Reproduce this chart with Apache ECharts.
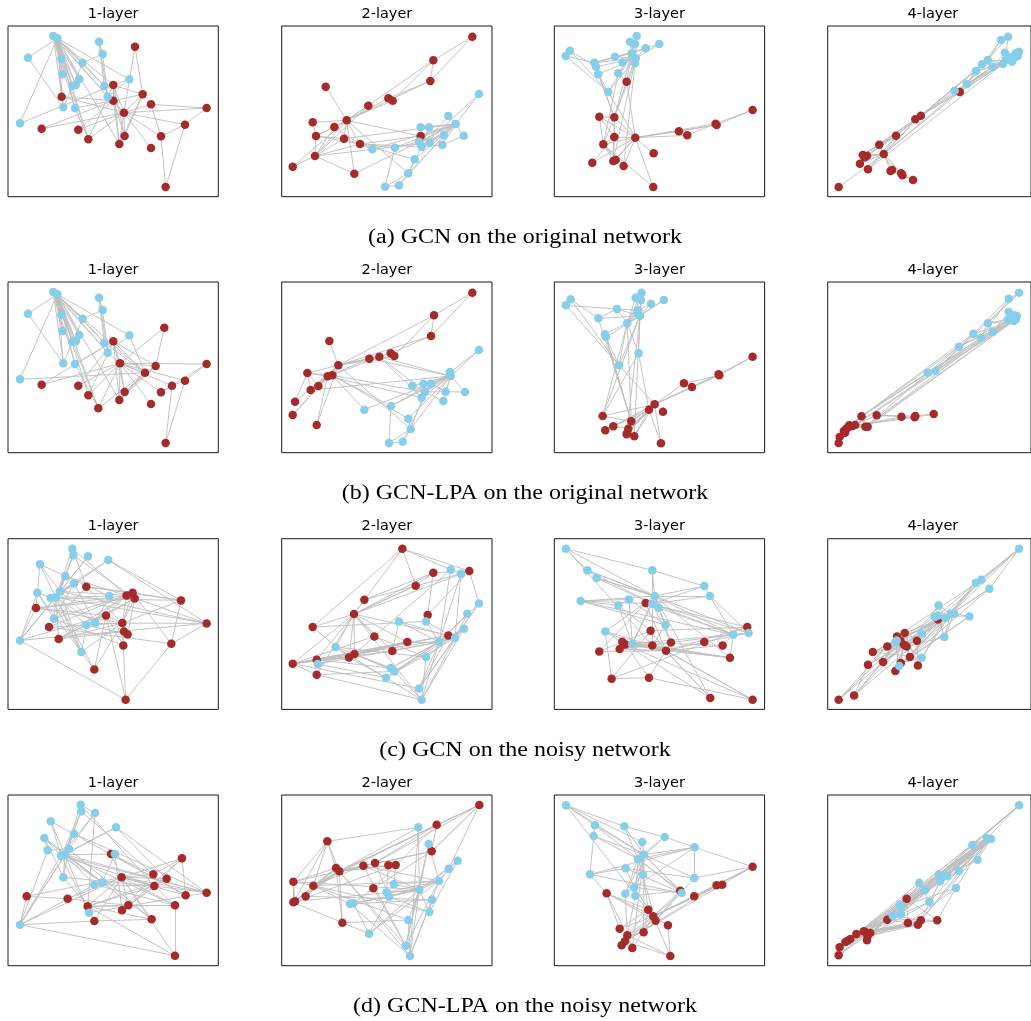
<!DOCTYPE html>
<html>
<head>
<meta charset="utf-8">
<script src="https://cdn.jsdelivr.net/npm/echarts@6/dist/echarts.min.js"></script>
<style>html,body{margin:0;padding:0;background:#fff;}#c{width:1031px;height:1021px;}</style>
</head>
<body>
<div id="c"></div>
<script>
// Zachary karate club: class of each node (0 = brown group, 1 = blue group)
const nodeClass = [0,0,0,0,0,0,0,0,0,1,0,0,0,0,1,1,0,0,1,0,1,0,1,1,1,1,1,1,1,1,1,1,1,1];
// original network edges
const karateEdges = [[0,1],[0,2],[0,3],[0,4],[0,5],[0,6],[0,7],[0,8],[0,10],[0,11],[0,12],[0,13],[0,17],[0,19],[0,21],[0,31],
[1,2],[1,3],[1,7],[1,13],[1,17],[1,19],[1,21],[1,30],[2,3],[2,7],[2,8],[2,9],[2,13],[2,27],[2,28],[2,32],[3,7],[3,12],[3,13],
[4,6],[4,10],[5,6],[5,10],[5,16],[6,16],[8,30],[8,32],[8,33],[9,33],[13,33],[14,32],[14,33],[15,32],[15,33],[18,32],[18,33],
[19,33],[20,32],[20,33],[22,32],[22,33],[23,25],[23,27],[23,29],[23,32],[23,33],[24,25],[24,27],[24,31],[25,31],[26,29],[26,33],
[27,33],[28,31],[28,33],[29,32],[29,33],[30,32],[30,33],[31,32],[31,33],[32,33]];

// node embeddings (2-D) per panel, node order 0..33
const posA1 = [[372,278],[340,242],[340,195],[428,223],[453,253],[555,314],[483,349],[374,348],[265,358],[60,310],[620,264],[453,384],[405,80],[358,372],[218,197],[228,195],[497,501],[125,326],[238,177],[185,230],[188,163],[235,329],[184,116],[248,128],[297,65],[308,102],[84,113],[313,198],[388,178],[190,262],[225,264],[323,230],[160,48],[172,55]];
const posA2 = [[1040,301],[945,408],[1080,372],[948,348],[1165,235],[1300,121],[1291,183],[1003,321],[1262,348],[1117,388],[1178,242],[977,200],[938,307],[1032,356],[1437,222],[1345,288],[1417,50],[878,440],[1262,322],[1063,461],[1287,322],[1105,257],[1257,365],[1332,346],[1155,500],[1197,496],[1391,347],[1185,383],[1244,418],[1327,375],[1289,368],[1225,460],[1265,380],[1367,312]];
const posA3 = [[271,353],[175,373],[208,292],[208,351],[402,334],[512,311],[515,315],[163,290],[245,185],[270,130],[427,346],[326,400],[142,428],[205,423],[275,48],[255,65],[623,270],[212,420],[270,72],[236,438],[210,110],[325,501],[233,127],[148,128],[75,92],[62,108],[343,72],[153,140],[160,163],[302,85],[220,160],[190,216],[260,100],[272,115]];
const posA4 = [[1022,402],[1060,347],[1137,287],[1008,374],[1043,453],[1076,460],[1080,466],[957,405],[1258,216],[1242,212],[1048,450],[882,501],[948,431],[1120,298],[1398,98],[1442,95],[1113,480],[970,407],[1415,112],[973,448],[1438,108],[962,412],[1420,125],[1400,120],[1386,60],[1408,50],[1432,100],[1345,120],[1327,133],[1425,115],[1308,153],[1280,192],[1360,140],[1392,132]];
const posB1 = [[360,262],[340,196],[435,290],[467,270],[483,349],[555,314],[516,329],[374,348],[295,397],[60,310],[620,264],[453,384],[493,155],[358,372],[218,197],[228,195],[497,501],[125,326],[238,177],[265,358],[188,165],[235,329],[184,116],[248,128],[297,65],[308,102],[84,113],[313,200],[388,178],[190,262],[225,264],[323,230],[160,48],[172,55]];
const posB2 = [[1015,268],[983,301],[997,298],[922,291],[1172,232],[1302,118],[1293,180],[955,330],[1138,242],[1093,401],[1183,240],[988,195],[885,377],[932,342],[1437,222],[1350,288],[1417,50],[878,417],[1237,329],[1108,248],[1270,323],[950,447],[1330,375],[1293,323],[1167,501],[1208,497],[1395,348],[1173,390],[1225,428],[1337,347],[1265,365],[1232,459],[1275,348],[1352,300]];
const posB3 = [[329,385],[312,401],[259,436],[250,458],[417,322],[521,295],[523,298],[247,470],[173,420],[180,175],[441,333],[354,407],[205,451],[245,475],[290,50],[272,65],[623,242],[181,463],[288,72],[268,481],[357,72],[348,502],[278,112],[216,99],[77,70],[63,88],[318,83],[160,127],[183,183],[280,103],[281,232],[222,268],[247,142],[285,120]];
const posB4 = [[925,450],[915,448],[953,421],[905,458],[1077,422],[1120,420],[1118,424],[898,465],[965,452],[1158,290],[1000,418],[885,483],[882,501],[972,452],[1435,120],[1432,130],[1177,414],[910,455],[1420,125],[933,447],[1428,118],[902,470],[1408,132],[1345,142],[1410,68],[1442,50],[1410,108],[1323,186],[1300,173],[1360,168],[1255,212],[1183,284],[1415,128],[1425,135]];
const posC1 = [[367,273],[318,250],[380,190],[404,199],[259,164],[398,182],[543,205],[108,228],[620,274],[217,50],[147,285],[372,298],[383,307],[176,321],[220,70],[264,73],[514,335],[370,340],[325,84],[283,412],[120,97],[377,503],[196,133],[222,154],[112,182],[152,198],[328,192],[162,260],[260,279],[286,273],[60,325],[244,360],[180,178],[167,196]];
const posC2 = [[1062,246],[878,395],[1063,366],[1047,376],[1207,50],[1300,122],[1408,117],[950,383],[1345,310],[1352,113],[1247,161],[1093,203],[938,285],[1222,330],[1383,125],[1437,214],[1283,249],[1123,313],[1402,245],[1177,357],[1197,268],[950,428],[1278,268],[1392,290],[1007,345],[1278,375],[953,396],[1172,408],[1183,418],[1158,437],[1257,469],[1265,503],[1365,318],[1317,330]];
const posC3 = [[363,356],[241,337],[322,340],[232,329],[302,213],[317,296],[607,285],[224,351],[378,331],[63,50],[163,358],[478,330],[533,340],[555,377],[127,115],[322,115],[200,440],[312,437],[155,138],[496,498],[478,162],[623,503],[495,192],[107,207],[252,202],[220,220],[341,227],[362,279],[181,298],[565,308],[611,303],[262,336],[322,215],[329,192]];
const posC4 = [[1085,338],[1073,325],[1093,343],[1063,313],[1190,262],[1087,303],[1125,326],[1033,343],[988,360],[1442,50],[1103,375],[1075,393],[973,398],[1020,390],[1308,152],[1325,143],[1128,400],[1058,417],[1350,170],[930,490],[1192,220],[882,503],[1180,255],[1190,250],[1240,245],[1288,253],[1140,305],[1210,315],[1058,330],[1062,325],[1140,377],[1070,402],[1213,258],[1230,245]];
const posD1 = [[365,268],[263,355],[463,294],[385,352],[333,198],[546,211],[460,259],[500,272],[620,314],[242,50],[557,322],[80,325],[203,332],[525,352],[244,70],[285,75],[366,367],[283,399],[152,100],[455,394],[348,118],[525,503],[222,137],[133,150],[207,183],[143,187],[345,198],[190,268],[283,290],[307,283],[267,374],[60,410],[183,203],[195,200]];
const posD2 = [[1018,250],[1008,240],[940,293],[880,343],[1438,51],[1310,110],[1295,190],[982,160],[1090,233],[1255,118],[1125,225],[1165,232],[1187,231],[880,281],[1286,168],[1373,218],[1120,301],[917,325],[1346,242],[885,340],[1182,289],[1027,404],[1160,313],[1168,326],[1296,335],[1050,348],[1060,346],[1288,372],[1225,396],[1107,437],[1217,473],[1230,504],[1317,279],[1258,305]];
const posD3 = [[325,385],[247,442],[332,398],[310,365],[623,236],[515,292],[532,290],[185,316],[406,308],[63,52],[448,325],[369,412],[224,422],[296,433],[150,112],[238,115],[240,460],[230,472],[146,144],[262,480],[359,147],[376,504],[292,162],[449,178],[242,241],[135,259],[294,260],[448,270],[268,298],[241,317],[271,323],[410,315],[279,213],[297,200]];
const posD4 = [[965,432],[980,435],[972,445],[960,430],[1093,332],[1033,395],[1097,405],[1128,410],[1137,397],[1442,52],[1188,397],[937,438],[970,457],[918,453],[1297,171],[1313,215],[910,458],[903,462],[1193,259],[885,478],[1218,265],[882,502],[1255,249],[1197,280],[1132,284],[1150,307],[1246,300],[1164,342],[1072,350],[1078,355],[1050,383],[1075,377],[1355,153],[1342,151]];

// extra (noise) edges of the noisy network, as seen in each noisy panel
const noiseC1 = [[18,6],[18,8],[30,21],[19,31],[16,21],[16,8],[9,4],[14,3],[20,7],[20,26],[7,30],[10,16],[13,11],[25,6],[4,5],[22,2],[24,30],[27,17],[28,12],[29,0]];
const noiseC2 = [[4,12],[4,9],[5,11],[6,15],[10,0],[1,8],[1,13],[21,28],[26,2],[24,0],[30,15],[31,23],[20,19],[22,16],[17,25],[7,27],[11,14],[3,29],[21,31],[12,22]];
const noiseC3 = [[9,15],[9,14],[14,18],[15,20],[20,22],[22,30],[22,29],[14,33],[18,33],[23,24],[28,16],[16,17],[17,21],[0,21],[0,19],[29,13],[11,30],[12,29],[1,28],[25,5]];
const noiseC4 = [[9,14],[9,15],[9,18],[14,0],[15,3],[18,31],[19,12],[21,7],[19,13],[21,1],[26,12],[30,11],[20,2],[25,10],[28,8],[24,5]];
const noiseD1 = [[31,21],[31,17],[31,11],[21,13],[9,14],[9,15],[15,1],[20,7],[20,8],[18,10],[23,29],[11,12],[19,17],[5,2],[22,8],[26,16],[24,19],[28,13],[27,1],[14,6]];
const noiseD2 = [[4,5],[4,6],[4,18],[7,9],[7,13],[13,19],[5,2],[6,0],[9,31],[14,30],[28,21],[29,3],[26,16],[25,2],[11,22],[12,20],[15,27],[10,23],[17,24],[16,30]];
const noiseD3 = [[9,14],[9,15],[9,22],[14,18],[15,20],[20,23],[23,4],[4,27],[4,5],[18,25],[25,7],[7,12],[16,21],[21,11],[23,27],[24,28],[29,1],[31,8],[10,0],[26,3]];
const noiseD4 = [[9,0],[9,1],[9,14],[21,33],[19,32],[17,22],[16,20],[13,14],[11,24],[12,25],[4,15],[6,26],[10,26],[5,27],[8,23],[7,30],[3,31],[2,28],[0,29],[1,18]];

const layerTitles = ['1-layer','2-layer','3-layer','4-layer'];
const captions = ['(a) GCN on the original network','(b) GCN-LPA on the original network','(c) GCN on the noisy network','(d) GCN-LPA on the noisy network'];

const rows = [
  [posA1,posA2,posA3,posA4].map(p=>({pos:p, extra:[]})),
  [posB1,posB2,posB3,posB4].map(p=>({pos:p, extra:[]})),
  [[posC1,noiseC1],[posC2,noiseC2],[posC3,noiseC3],[posC4,noiseC4]].map(a=>({pos:a[0], extra:a[1]})),
  [[posD1,noiseD1],[posD2,noiseD2],[posD3,noiseD3],[posD4,noiseD4]].map(a=>({pos:a[0], extra:a[1]}))
];

// layout
const colLeft = [8, 281.7, 554.3, 827.7];
const rowTop = [26, 282, 538.7, 795];
const gw = 210.3, gh = 170.7;
const colOrigin = [24, 845, 28, 848];
const rowOrigin = [18, 18, 20, 21];
const spanX = 631, spanY = 512;
const COLORS = ['#A52A2A', '#87CEEB'];

const grid = [], xAxis = [], yAxis = [], series = [], graphic = [];
let k = 0;
rows.forEach((row, r) => {
  row.forEach((panel, c) => {
    grid.push({left: colLeft[c], top: rowTop[r], width: gw, height: gh, show: true,
      borderColor: '#1a1a1a', borderWidth: 1, backgroundColor: '#fff'});
    xAxis.push({type: 'value', gridIndex: k, min: colOrigin[c], max: colOrigin[c] + spanX, show: false});
    yAxis.push({type: 'value', gridIndex: k, min: rowOrigin[r], max: rowOrigin[r] + spanY, inverse: true, show: false});
    const edges = karateEdges.concat(panel.extra);
    series.push({
      type: 'graph', layout: 'none', coordinateSystem: 'cartesian2d',
      xAxisIndex: k, yAxisIndex: k, silent: true, animation: false,
      symbol: 'circle', symbolSize: 8.5,
      data: panel.pos.map((p, i) => ({value: p, itemStyle: {color: COLORS[nodeClass[i]], borderWidth: 0}})),
      links: edges.map(e => ({source: e[0], target: e[1]})),
      lineStyle: {color: '#bdbdbd', width: 0.9, opacity: 1, curveness: 0},
      label: {show: false}
    });
    graphic.push({type: 'text', x: colLeft[c] + gw / 2, y: rowTop[r] - 12,
      style: {text: layerTitles[c], font: '14.5px "DejaVu Sans"', fill: '#000',
        textAlign: 'center', textVerticalAlign: 'middle', align: 'center', verticalAlign: 'middle'}});
    k++;
  });
  graphic.push({type: 'text', x: 525, y: rowTop[r] + gh + 41.5, scaleX: 1.2, scaleY: 1,
    style: {text: captions[r], font: '20px "Liberation Serif"', fill: '#000',
      textAlign: 'center', textVerticalAlign: 'middle', align: 'center', verticalAlign: 'middle'}});
});

const chart = echarts.init(document.getElementById('c'), null, {renderer: 'canvas'});
chart.setOption({animation: false, backgroundColor: '#fff', grid, xAxis, yAxis, series, graphic});
</script>
</body>
</html>
